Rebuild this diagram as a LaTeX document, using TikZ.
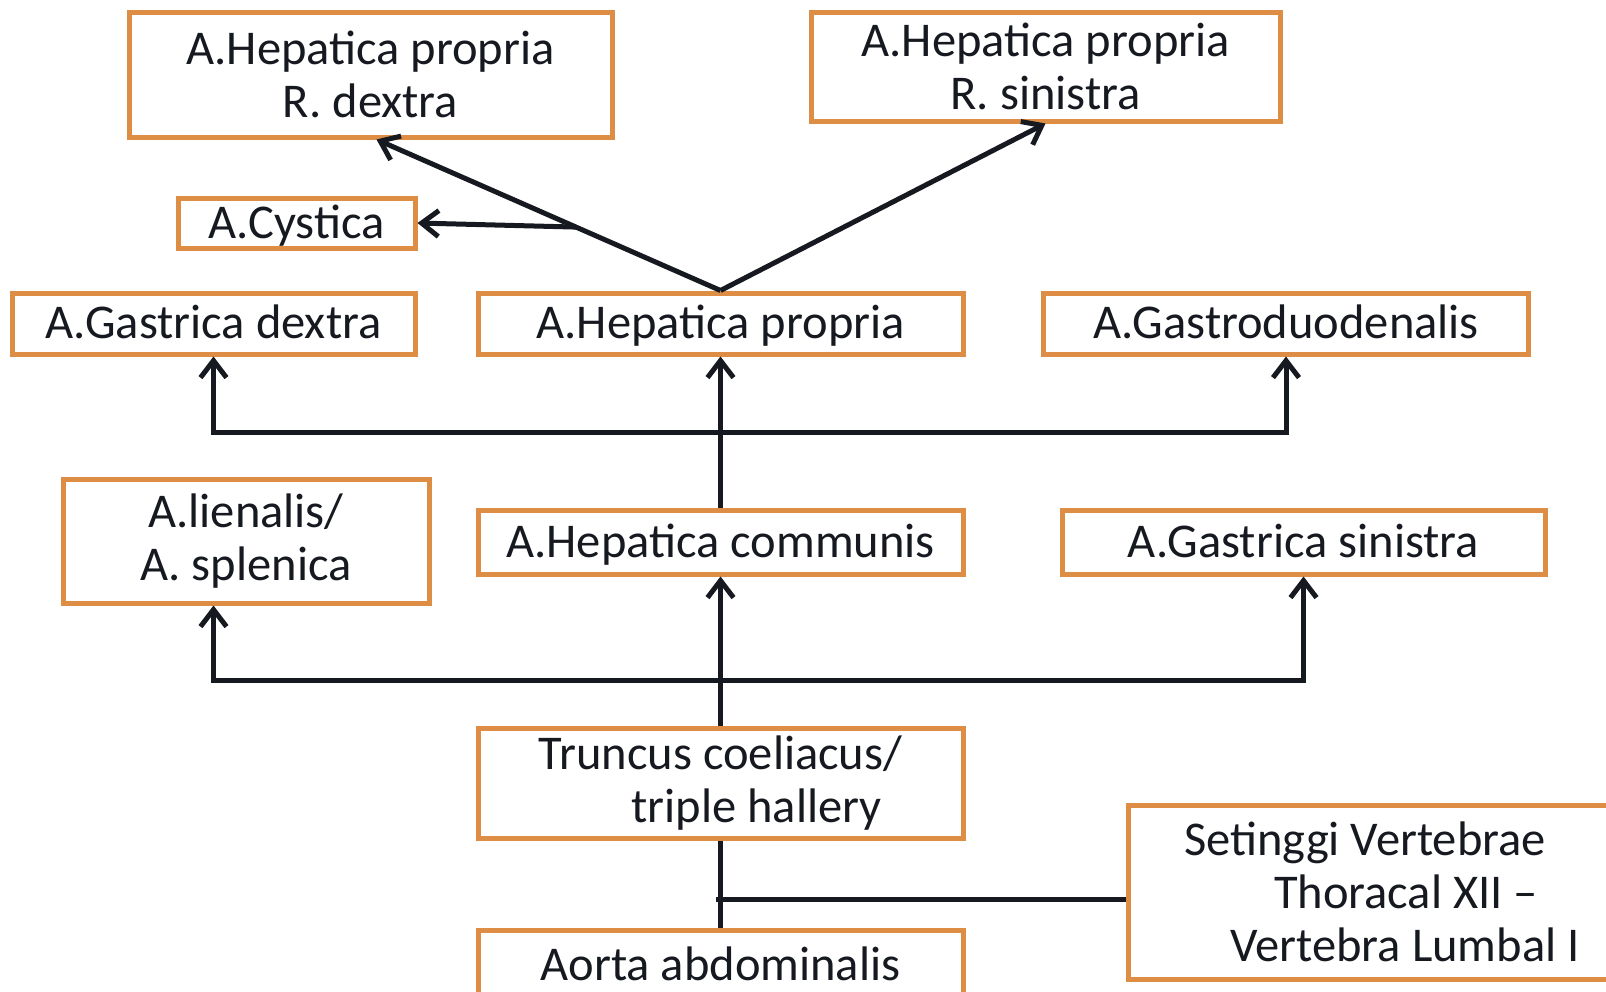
\documentclass[tikz,border=0pt]{standalone}
\usepackage{fontspec}
\setmainfont{Carlito}
\usetikzlibrary{arrows.meta}
\definecolor{boxorange}{RGB}{221,141,68}
\definecolor{inkdark}{RGB}{22,26,32}
\tikzset{
    artbox/.style={draw=boxorange,line width=5pt,fill=white,align=center,inner sep=0pt,text=inkdark,font=\fontsize{48.5}{53}\selectfont},
    oneline/.style={text height=40pt,text depth=10pt},
    artbig/.style={artbox,oneline,minimum width=485pt,minimum height=61pt},
    branch/.style={line width=5pt,draw=inkdark,-{Straight Barb[length=17pt,width=26pt,line width=5pt]}},
    trunk/.style={line width=5pt,draw=inkdark}
}
\begin{document}
\begin{tikzpicture}[x=1pt,y=-1pt]
        \useasboundingbox (0,0) rectangle (1606,991);
        %---
        \node[artbox,minimum width=483pt,minimum height=125pt] (hp-dex) at (370.5,74.5) {A.Hepatica propria\\R. dextra};
        \node[artbox,minimum width=469pt,minimum height=109pt] (hp-sin) at (1045.5,66.5) {A.Hepatica propria\\R. sinistra};
        \node[artbox,oneline,minimum width=237pt,minimum height=48pt] (cys) at (296.5,223) {A.Cystica};

        \node[artbox,oneline,minimum width=403pt,minimum height=61pt] (g-dex) at (213.5,323.5) {A.Gastrica dextra};
        \node[artbig] (hp-prop) at (720.5,323.5) {A.Hepatica propria};
        \node[artbig] (g-duo) at (1286,323.5) {A.Gastroduodenalis};

        \node[artbox,minimum width=366pt,minimum height=124pt] (lien) at (246,541) {A.lienalis/\\A. splenica};
        \node[artbig,minimum height=64pt] (hp-com) at (720.5,542) {A.Hepatica communis};
        \node[artbox,oneline,minimum width=483pt,minimum height=64pt] (g-sin) at (1303.5,542) {A.Gastrica sinistra};

        \node[artbig,minimum height=110pt,text height=,text depth=] (trunc) at (720.5,783) {Truncus coeliacus/\\\hspace*{72pt}triple hallery};
        \node[artbox,minimum width=480pt,minimum height=174pt] (vert) at (1368,892) {\hspace*{-6pt}Setinggi Vertebrae\\\hspace*{76pt}Thoracal XII --\\\hspace*{74pt}Vertebra Lumbal I};
        \node[artbig,minimum height=70pt] (aorta) at (720.5,965) {Aorta abdominalis};

        %---
        \begin{scope}[every path/.style={branch}]
            \draw (hp-prop.north) -- coordinate[pos=.42] (cys-br) ([xshift=6pt]hp-dex.south);
            \draw (cys-br) -- (cys.east);
            \draw (hp-prop.north) -- (hp-sin.south);

            \draw (hp-com.north) -- coordinate[midway] (bus-up) (hp-prop.south);
            \draw (bus-up) -| (g-dex.south);
            \draw (bus-up) -| (g-duo.south);

            \draw (trunc.north) -- coordinate[pos=.3] (bus-low) (hp-com.south);
            \draw (bus-low) -| (lien.south -| g-dex.south);
            \draw (bus-low) -| (g-sin.south);
        \end{scope}
        \draw[trunk] (trunc.south) -- (aorta.north);
        \draw[trunk] ([yshift=-7pt]vert.west) -- ([yshift=-7pt,xshift=-5pt]vert.west -| trunc.south);
    \end{tikzpicture}
\end{document}
